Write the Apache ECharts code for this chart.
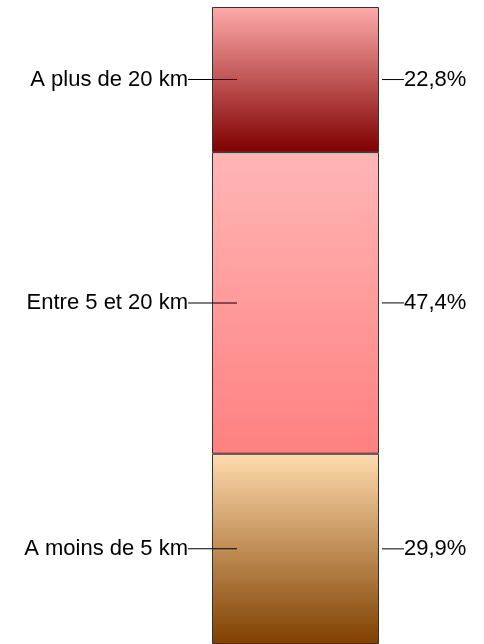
<!DOCTYPE html>
<html>
<head>
<meta charset="utf-8">
<script src="https://cdn.jsdelivr.net/npm/echarts@6/dist/echarts.min.js"></script>
<style>
  html, body { margin: 0; padding: 0; background: #fff; }
  #main { width: 484px; height: 644px; }
</style>
</head>
<body>
<div id="main"></div>
<script>
// distance au lieu de travail, du bas vers le haut de la barre
const categories = ['A moins de 5 km', 'Entre 5 et 20 km', 'A plus de 20 km'];
const values = [29.9, 47.4, 22.8];
const pctLabels = ['29,9%', '47,4%', '22,8%'];
// dégradés haut -> bas de chaque segment
const gradTop = ['#ffdbad', '#ffb6b6', '#ffaaaa'];
const gradBottom = ['#804000', '#ff8080', '#800000'];

const chart = echarts.init(document.getElementById('main'));

const font = { fontFamily: 'Liberation Sans, Arial, sans-serif', fontSize: 22, color: '#000' };

const series = [];
// barres colorées + étiquette de gauche
categories.forEach((name, i) => {
    series.push({
        name: name,
        type: 'bar',
        stack: 'main',
        barWidth: '100%',
        barGap: '-100%',
        data: [values[i]],
        itemStyle: {
            color: new echarts.graphic.LinearGradient(0, 0, 0, 1, [
                { offset: 0, color: gradTop[i] },
                { offset: 1, color: gradBottom[i] }
            ]),
            borderColor: '#333',
            borderWidth: 1
        },
        label: {
            show: true,
            position: [25, '50%'],
            align: 'right',
            verticalAlign: 'middle',
            formatter: '{t|' + name + '}{l|}',
            rich: {
                t: font,
                l: { width: 49, height: 1, backgroundColor: '#000' }
            }
        },
        emphasis: { disabled: true }
    });
});
// même pile, transparente, pour les pourcentages à droite
categories.forEach((name, i) => {
    series.push({
        name: name + ' %',
        type: 'bar',
        stack: 'pct',
        barWidth: '100%',
        barGap: '-100%',
        data: [values[i]],
        itemStyle: { color: 'rgba(0,0,0,0)' },
        label: {
            show: true,
            position: ['100%', '50%'],
            offset: [3, 0],
            align: 'left',
            verticalAlign: 'middle',
            formatter: '{l|}{t|' + pctLabels[i] + '}',
            rich: {
                t: font,
                l: { width: 22, height: 1, backgroundColor: '#000' }
            }
        },
        emphasis: { disabled: true },
        silent: true
    });
});

chart.setOption({
    animation: false,
    grid: { left: 212, right: 105, top: 7, bottom: -2 },
    xAxis: { type: 'category', data: [''], show: false },
    yAxis: { type: 'value', min: 0, max: 100.1, show: false },
    series: series
});
</script>
</body>
</html>
